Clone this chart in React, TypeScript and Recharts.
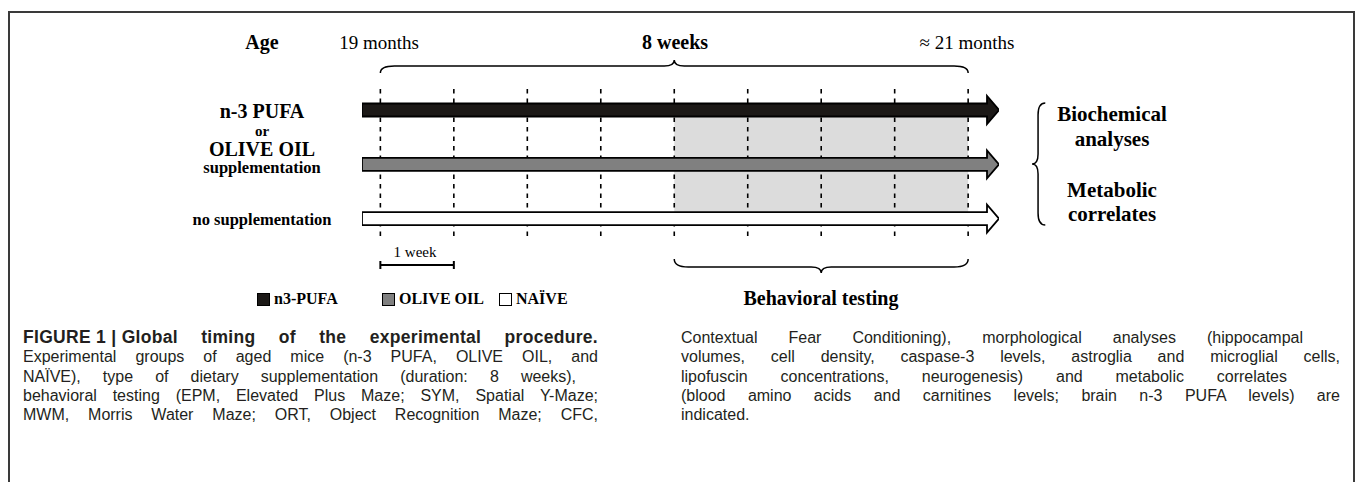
import React from 'react';
import { ComposedChart, Bar, Cell, XAxis, YAxis, ReferenceLine, ReferenceArea } from 'recharts';

// groups of aged mice and how each arrow is filled
const groups = ['n-3 PUFA', 'OLIVE OIL', 'NAÏVE'];
const groupFills = ['#1c1917', '#808080', '#ffffff'];
const legendLabels = ['n3-PUFA', 'OLIVE OIL', 'NAÏVE'];

// timeline in weeks (0 = 19 months, 8 = ~21 months)
const weeks = [0, 1, 2, 3, 4, 5, 6, 7, 8];
const supplementSpan = [-0.25, 8.42];
const behaviorSpan = [4, 8];
const scaleBarSpan = [0, 1];

const captionTitleLead = 'FIGURE 1 | Global';
const captionLeft = [
  ' timing of the experimental procedure.',
  'Experimental groups of aged mice (n-3 PUFA, OLIVE OIL, and',
  'NAÏVE), type of dietary supplementation (duration: 8 weeks),',
  'behavioral testing (EPM, Elevated Plus Maze; SYM, Spatial Y-Maze;',
  'MWM, Morris Water Maze; ORT, Object Recognition Maze; CFC,',
];
const captionRight = [
  'Contextual Fear Conditioning), morphological analyses (hippocampal',
  'volumes, cell density, caspase-3 levels, astroglia and microglial cells,',
  'lipofuscin concentrations, neurogenesis) and metabolic correlates',
  '(blood amino acids and carnitines levels; brain n-3 PUFA levels) are',
  'indicated.',
];
const captionLeftWidths = [575, 575, 553, 575, 575];
const captionRightWidths = [622, 659, 606, 659, 0];

const rows = groups.map((name, i) => ({ name, span: supplementSpan, fill: groupFills[i] }));

const serif = "'Liberation Serif', 'Times New Roman', serif";
const sans = "'Liberation Sans', Arial, sans-serif";
const chartMargin = { top: 83, right: 356, bottom: 84, left: 362 };

const Arrow = (props: any) => {
  const { x, y, width, height, fill } = props;
  const cy = y + height / 2;
  const body = 6.5;
  const head = 14;
  const xe = x + width - 12;
  const d = `M${x},${cy - body} L${xe},${cy - body} L${xe},${cy - head} L${x + width},${cy} L${xe},${cy + head} L${xe},${cy + body} L${x},${cy + body} Z`;
  return <path d={d} fill={fill} stroke="#000" strokeWidth={1.8} />;
};

// curly brace, tip up, ends curling down
const BraceUp = (props: any) => {
  const { x, y, width, height } = props;
  const m = x + width / 2;
  const ly = y + 6;
  const d = `M${x},${y + height} Q${x},${ly} ${x + 14},${ly} L${m - 10},${ly} Q${m},${ly} ${m},${y} Q${m},${ly} ${m + 10},${ly} L${x + width - 14},${ly} Q${x + width},${ly} ${x + width},${y + height}`;
  return <path d={d} fill="none" stroke="#000" strokeWidth={1.5} />;
};

// curly brace, tip down, ends curling up
const BraceDown = (props: any) => {
  const { x, y, width, height } = props;
  const m = x + width / 2;
  const ly = y + height - 6;
  const b = y + height;
  const d = `M${x},${y} Q${x},${ly} ${x + 14},${ly} L${m - 10},${ly} Q${m},${ly} ${m},${b} Q${m},${ly} ${m + 10},${ly} L${x + width - 14},${ly} Q${x + width},${ly} ${x + width},${y}`;
  return <path d={d} fill="none" stroke="#000" strokeWidth={1.5} />;
};

// curly brace opening to the right
const BraceLeft = (props: any) => {
  const { x, y, width, height } = props;
  const m = y + height / 2;
  const lx = x + 6;
  const r = x + width;
  const d = `M${r},${y} Q${lx},${y} ${lx},${y + 12} L${lx},${m - 10} Q${lx},${m} ${x},${m} Q${lx},${m} ${lx},${m + 10} L${lx},${y + height - 12} Q${lx},${y + height} ${r},${y + height}`;
  return <path d={d} fill="none" stroke="#000" strokeWidth={1.5} />;
};

const ScaleBar = (props: any) => {
  const { x, y, width, height } = props;
  const m = y + height / 2;
  return (
    <g stroke="#000" strokeWidth={2}>
      <line x1={x} y1={m} x2={x + width} y2={m} />
      <line x1={x} y1={y} x2={x} y2={y + height} />
      <line x1={x + width} y1={y} x2={x + width} y2={y + height} />
    </g>
  );
};

const Label = ({ x, y, size, bold, children }: any) => (
  <div
    style={{
      position: 'absolute',
      left: x,
      top: y,
      transform: 'translate(-50%, -50%)',
      fontFamily: serif,
      fontSize: size,
      fontWeight: bold ? 'bold' : 'normal',
      whiteSpace: 'nowrap',
      lineHeight: 1,
      color: '#000',
    }}
  >
    {children}
  </div>
);

const CaptionLine = ({ text, width, bold, lead }: any) => (
  <div
    style={{
      width: width || 'auto',
      textAlign: 'justify',
      textAlignLast: width ? 'justify' : 'left',
      whiteSpace: 'nowrap',
      fontWeight: bold ? 'bold' : 'normal',
      fontSize: bold ? 17.5 : undefined,
      letterSpacing: bold ? 0.3 : undefined,
      height: 19.3,
    }}
  >
    {lead && <span style={{ display: 'inline-block' }}>{lead}</span>}
    {text}
  </div>
);

export default function App() {
  return (
    <div style={{ position: 'absolute', left: 0, top: 0, width: 1355, height: 482, background: '#fff', overflow: 'hidden' }}>
      <div
        style={{
          position: 'absolute',
          left: 8,
          top: 11,
          width: 1343,
          height: 500,
          borderTop: '2px solid #3a3a3a',
          borderLeft: '2px solid #3a3a3a',
          borderRight: '2px solid #3a3a3a',
        }}
      />
      {/* timeline annotations: shaded behavioral period, week ticks, braces */}
      <div style={{ position: 'absolute', left: 0, top: 0 }}>
        <ComposedChart width={1355} height={330} data={rows} margin={chartMargin}>
          <XAxis type="number" dataKey="x" domain={supplementSpan} allowDataOverflow hide />
          <YAxis type="number" domain={[83, 246]} reversed allowDataOverflow hide />
          <ReferenceArea
            x1={behaviorSpan[0]}
            x2={behaviorSpan[1]}
            y1={116}
            y2={219}
            fill="#dcdcdc"
            fillOpacity={1}
            stroke="none"
          />
          {weeks.map((w) => (
            <ReferenceLine
              key={w}
              segment={[{ x: w, y: 89 }, { x: w, y: 240 }]}
              stroke="#000"
              strokeWidth={1.6}
              strokeDasharray="4.5 5"
            />
          ))}
          <ReferenceArea x1={weeks[0]} x2={weeks[8]} y1={60} y2={73} ifOverflow="visible" shape={<BraceUp />} />
          <ReferenceArea x1={behaviorSpan[0]} x2={behaviorSpan[1]} y1={259} y2={273} ifOverflow="visible" shape={<BraceDown />} />
          <ReferenceArea x1={8.87} x2={9.05} y1={103} y2={225} ifOverflow="visible" shape={<BraceLeft />} />
          <ReferenceArea x1={scaleBarSpan[0]} x2={scaleBarSpan[1]} y1={261} y2={269} ifOverflow="visible" shape={<ScaleBar />} />
        </ComposedChart>
      </div>
      {/* supplementation arrows */}
      <div style={{ position: 'absolute', left: 0, top: 0 }}>
        <ComposedChart layout="vertical" width={1355} height={330} data={rows} margin={chartMargin}>
          <XAxis type="number" domain={supplementSpan} allowDataOverflow hide />
          <YAxis type="category" dataKey="name" hide />
          <Bar dataKey="span" barSize={28} shape={<Arrow />} isAnimationActive={false}>
            {rows.map((r) => (
              <Cell key={r.name} fill={r.fill} />
            ))}
          </Bar>
        </ComposedChart>
      </div>

      <Label x={262} y={42} size={20} bold>Age</Label>
      <Label x={379} y={42} size={19}>19 months</Label>
      <Label x={675} y={42} size={20} bold>8 weeks</Label>
      <Label x={967} y={42} size={19}>≈ 21 months</Label>

      <Label x={262} y={111} size={20} bold>n-3 PUFA</Label>
      <Label x={262} y={131} size={15} bold>or</Label>
      <Label x={262} y={149} size={20} bold>OLIVE OIL</Label>
      <Label x={262} y={168} size={16.5} bold>supplementation</Label>
      <Label x={262} y={220} size={16.5} bold>no supplementation</Label>
      <Label x={415} y={252} size={15}>1 week</Label>

      <Label x={1112} y={114} size={21} bold>Biochemical</Label>
      <Label x={1112} y={139} size={21} bold>analyses</Label>
      <Label x={1112} y={190} size={21} bold>Metabolic</Label>
      <Label x={1112} y={214} size={21} bold>correlates</Label>

      <Label x={821} y={298} size={20} bold>Behavioral testing</Label>

      {legendLabels.map((l, i) => (
        <div
          key={l}
          style={{
            position: 'absolute',
            left: [257, 382, 499][i],
            top: 290,
            display: 'flex',
            alignItems: 'center',
            fontFamily: serif,
            fontWeight: 'bold',
            fontSize: 16,
            whiteSpace: 'nowrap',
          }}
        >
          <span
            style={{
              display: 'inline-block',
              width: 11,
              height: 11,
              background: groupFills[i],
              border: '1.5px solid #000',
              marginRight: 4,
            }}
          />
          {l}
        </div>
      ))}

      <div style={{ position: 'absolute', left: 23, top: 328, fontFamily: sans, fontSize: 16, color: '#231f20', lineHeight: '19.3px' }}>
        {captionLeft.map((t, i) => (
          <CaptionLine key={i} text={t} width={captionLeftWidths[i]} bold={i === 0} lead={i === 0 ? captionTitleLead : undefined} />
        ))}
      </div>
      <div style={{ position: 'absolute', left: 681, top: 328, fontFamily: sans, fontSize: 16, color: '#231f20', lineHeight: '19.3px' }}>
        {captionRight.map((t, i) => (
          <CaptionLine key={i} text={t} width={captionRightWidths[i]} />
        ))}
      </div>
    </div>
  );
}
